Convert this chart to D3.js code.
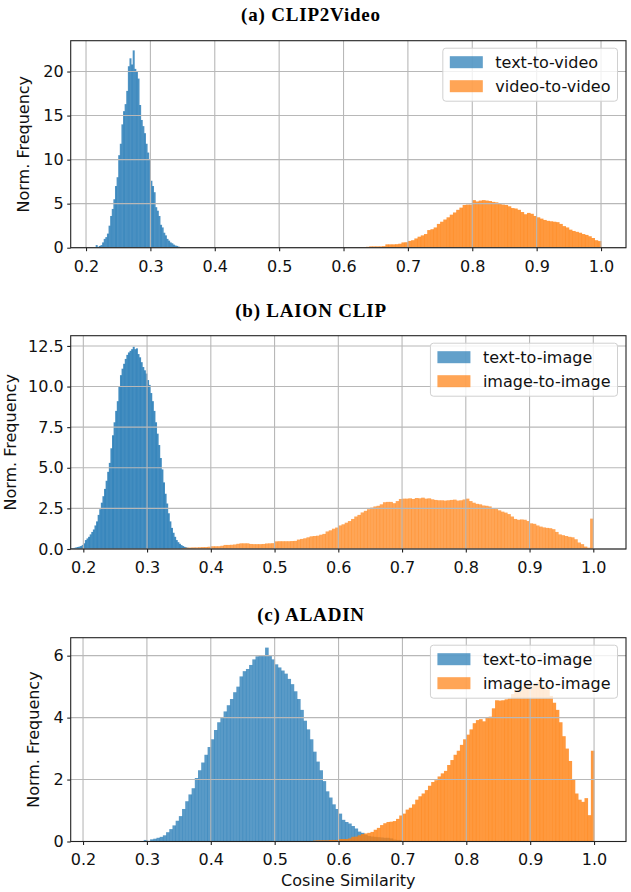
<!DOCTYPE html>
<html>
<head>
<meta charset="utf-8">
<script src="https://cdn.jsdelivr.net/npm/d3@7"></script>
<style>
  body { margin: 0; background: #fff; }
  svg { display: block; }
</style>
</head>
<body>
<svg id="chart" width="631" height="892"></svg>
<script>
// histogram heights, one value per bin
var xTicks = [0.2, 0.3, 0.4, 0.5, 0.6, 0.7, 0.8, 0.9, 1.0];

// (a) CLIP2Video
var aTextStart = 0.215, aTextWidth = 0.0025;
var aText = [0.3, 0.1, 0.2, 0.3, 0.6, 1.0, 1.2, 1.6, 2.5, 3.6, 4.4, 5.5, 7.0, 8.0, 10.5, 11.8,
  14.0, 15.5, 16.3, 17.8, 20.6, 21.5, 20.8, 22.4, 20.3, 20.0, 19.2, 16.2, 14.5, 13.8, 13.0, 11.8,
  10.8, 10.0, 7.6, 7.0, 6.3, 4.6, 4.2, 3.6, 2.6, 2.3, 1.7, 1.4, 1.0, 0.8, 0.6, 0.5,
  0.35, 0.25, 0.2, 0.12, 0.08, 0.05, 0.03, 0.02];
var aVideoStart = 0.6, aVideoWidth = 0.005;
var aVideo = [0.02, 0.02, 0.03, 0.03, 0.05, 0.06, 0.06, 0.1, 0.15, 0.15, 0.15, 0.15, 0.18, 0.38, 0.38, 0.38,
  0.4, 0.45, 0.6, 0.62, 0.77, 0.85, 1.05, 1.25, 1.4, 1.55, 2.0, 2.1, 2.3, 2.7, 2.95, 3.2,
  3.45, 3.75, 4.0, 4.3, 4.55, 4.85, 4.9, 4.9, 5.4, 5.25, 5.35, 5.4, 5.35, 5.3, 5.2, 5.15,
  5.0, 4.9, 4.85, 4.7, 4.5, 4.45, 4.3, 4.05, 3.8, 3.95, 3.85, 3.6, 3.45, 3.3, 3.15, 3.05,
  3.0, 2.95, 2.9, 2.7, 2.45, 2.3, 2.05, 1.9, 1.8, 1.7, 1.55, 1.45, 1.3, 1.1, 0.85, 0.75];

// (b) LAION CLIP
var bTextStart = 0.18, bTextWidth = 0.0025;
var bText = [0.04, 0.05, 0.07, 0.1, 0.12, 0.15, 0.18, 0.25, 0.35, 0.55, 0.65, 0.75, 0.9, 1.05, 1.2, 1.45,
  1.7, 2.1, 2.45, 2.85, 3.25, 3.7, 4.2, 4.75, 5.3, 6.2, 7.0, 7.8, 8.5, 9.1, 10.0, 10.7,
  11.1, 11.4, 11.7, 11.95, 12.1, 12.2, 12.3, 12.45, 12.3, 12.35, 12.0, 11.8, 11.5, 11.2, 11.0, 10.8,
  10.4, 10.1, 9.6, 9.1, 8.5, 7.8, 7.1, 6.4, 5.6, 4.9, 4.1, 3.4, 2.8, 2.2, 1.7, 1.3,
  1.0, 0.75, 0.55, 0.42, 0.32, 0.24, 0.18, 0.13, 0.1, 0.07, 0.05, 0.04, 0.03, 0.02];
var bImageStart = 0.355, bImageWidth = 0.005;
var bImage = [0.06, 0.08, 0.09, 0.1, 0.1, 0.11, 0.12, 0.12, 0.14, 0.17, 0.17, 0.17, 0.2, 0.25, 0.25, 0.26,
  0.28, 0.32, 0.35, 0.35, 0.35, 0.31, 0.3, 0.3, 0.3, 0.31, 0.34, 0.35, 0.36, 0.47, 0.48, 0.48,
  0.48, 0.48, 0.49, 0.5, 0.58, 0.62, 0.66, 0.72, 0.78, 0.8, 0.82, 0.88, 0.93, 1.08, 1.15, 1.25,
  1.32, 1.45, 1.52, 1.62, 1.72, 1.85, 2.0, 2.1, 2.25, 2.35, 2.45, 2.55, 2.62, 2.66, 2.75, 2.88,
  2.9, 2.9, 2.82, 2.95, 3.08, 3.1, 3.1, 3.12, 3.08, 3.14, 3.12, 3.16, 3.1, 3.12, 3.06, 3.02,
  3.0, 3.0, 2.98, 3.0, 3.02, 3.04, 2.98, 3.0, 3.05, 3.1, 2.95, 2.85, 2.78, 2.75, 2.68, 2.66,
  2.62, 2.52, 2.46, 2.38, 2.3, 2.24, 2.15, 2.0, 1.85, 1.8, 1.82, 1.8, 1.72, 1.58, 1.55, 1.45,
  1.38, 1.33, 1.3, 1.28, 1.22, 1.05, 0.9, 0.85, 0.8, 0.75, 0.72, 0.6, 0.4, 0.3, 0.15, 0.08, 1.87];

// (c) ALADIN
var cTextStart = 0.295, cTextWidth = 0.005;
var cText = [0.05, 0.02, 0.07, 0.09, 0.12, 0.15, 0.2, 0.3, 0.4, 0.52, 0.67, 0.82, 1.05, 1.3, 1.52, 1.72,
  2.05, 2.3, 2.55, 2.8, 3.05, 3.3, 3.6, 3.85, 4.02, 4.2, 4.4, 4.6, 4.82, 5.0, 5.33, 5.5,
  5.57, 5.7, 5.88, 5.98, 6.02, 6.02, 6.26, 6.0, 5.88, 5.72, 5.62, 5.52, 5.42, 5.25, 5.08, 4.85,
  4.6, 4.25, 3.9, 3.62, 3.3, 2.9, 2.58, 2.3, 1.95, 1.62, 1.42, 1.2, 1.05, 0.9, 0.7, 0.63,
  0.58, 0.5, 0.42, 0.32, 0.28, 0.22, 0.18, 0.16, 0.15, 0.14, 0.13, 0.12, 0.12, 0.1, 0.06, 0.05, 0.05];
var cImageStart = 0.56, cImageWidth = 0.005;
var cImage = [0.03, 0.04, 0.04, 0.04, 0.04, 0.05, 0.05, 0.05, 0.08, 0.08, 0.08, 0.1, 0.15, 0.16, 0.2, 0.24,
  0.26, 0.28, 0.31, 0.38, 0.44, 0.53, 0.59, 0.63, 0.64, 0.66, 0.73, 0.84, 0.9, 1.03, 1.09, 1.2,
  1.35, 1.46, 1.55, 1.66, 1.8, 1.92, 1.98, 2.1, 2.2, 2.28, 2.47, 2.63, 2.8, 2.93, 3.12, 3.3,
  3.45, 3.62, 3.82, 3.92, 3.95, 3.88, 3.99, 4.03, 4.3, 4.56, 4.55, 4.56, 4.59, 4.62, 4.76, 4.85,
  4.95, 5.0, 5.05, 5.1, 5.02, 5.1, 5.15, 5.05, 5.0, 4.9, 4.7, 4.48, 4.25, 3.85, 3.4, 3.0,
  2.6, 2.0, 1.55, 1.35, 1.28, 1.4, 0.85, 2.93];

var blue = "#1f77b4", orange = "#ff7f0e";

var panels = [
  { title: "(a) CLIP2Video", titleY: 21, top: 40.7, bottom: 247.7, xDomain: [0.1762, 1.0388],
    yDomain: [0, 23.5], yTicks: [0, 5, 10, 15, 20], yFmt: d3.format("d"), yLabelX: 29,
    series: [
      { name: "text-to-video", start: aTextStart, w: aTextWidth, values: aText, color: blue, op: 0.8 },
      { name: "video-to-video", start: aVideoStart, w: aVideoWidth, values: aVideo, color: orange, op: 0.8 }
    ] },
  { title: "(b) LAION CLIP", titleY: 316.5, top: 335.7, bottom: 549, xDomain: [0.1802, 1.0513],
    yDomain: [0, 13.13], yTicks: [0, 2.5, 5, 7.5, 10, 12.5], yFmt: d3.format(".1f"), yLabelX: 15.5,
    series: [
      { name: "text-to-image", start: bTextStart, w: bTextWidth, values: bText, color: blue, op: 0.84 },
      { name: "image-to-image", start: bImageStart, w: bImageWidth, values: bImage, color: orange, op: 0.7 }
    ] },
  { title: "(c) ALADIN", titleY: 621, top: 637.7, bottom: 841.5, xDomain: [0.1807, 1.050],
    yDomain: [0, 6.58], yTicks: [0, 2, 4, 6], yFmt: d3.format("d"), yLabelX: 39,
    series: [
      { name: "text-to-image", start: cTextStart, w: cTextWidth, values: cText, color: blue, op: 0.74 },
      { name: "image-to-image", start: cImageStart, w: cImageWidth, values: cImage, color: orange, op: 0.8 }
    ] }
];

var svg = d3.select("#chart");
var left = 70.7, right = 626;
var sans = "'DejaVu Sans', sans-serif";
var fontSize = "16px";

panels.forEach(function (p) {
  var x = d3.scaleLinear().domain(p.xDomain).range([left, right]);
  var y = d3.scaleLinear().domain(p.yDomain).range([p.bottom, p.top]);
  var g = svg.append("g");

  g.append("text")
    .attr("x", 311).attr("y", p.titleY)
    .attr("text-anchor", "middle")
    .style("font-family", "'Liberation Serif', serif")
    .style("font-weight", "bold")
    .style("font-size", "19px")
    .style("letter-spacing", "0.8px")
    .text(p.title);

  // bars
  p.series.forEach(function (s) {
    g.append("g").selectAll("rect")
      .data(s.values)
      .enter().append("rect")
      .attr("x", function (d, i) { return x(s.start + i * s.w); })
      .attr("width", function (d, i) { return x(s.start + (i + 1) * s.w) - x(s.start + i * s.w) + 0.4; })
      .attr("y", function (d) { return y(d); })
      .attr("height", function (d) { return p.bottom - y(d); })
      .attr("fill", s.color)
      .attr("fill-opacity", s.op);
  });

  // grid above bars, like matplotlib's default
  var grid = g.append("g").attr("stroke", "#b8b8b8").attr("stroke-width", 1.1);
  xTicks.forEach(function (t) {
    grid.append("line").attr("x1", x(t)).attr("x2", x(t)).attr("y1", p.top).attr("y2", p.bottom);
  });
  p.yTicks.forEach(function (t) {
    grid.append("line").attr("x1", left).attr("x2", right).attr("y1", y(t)).attr("y2", y(t));
  });

  var xAxis = g.append("g").attr("transform", "translate(0," + p.bottom + ")")
    .call(d3.axisBottom(x).tickValues(xTicks).tickFormat(d3.format(".1f")).tickSize(3.5).tickPadding(9));
  var yAxis = g.append("g").attr("transform", "translate(" + left + ",0)")
    .call(d3.axisLeft(y).tickValues(p.yTicks).tickFormat(p.yFmt).tickSize(3.5).tickPadding(3.5));
  [xAxis, yAxis].forEach(function (a) {
    a.select(".domain").remove();
    a.selectAll("line").attr("stroke", "#222").attr("stroke-width", 1.1);
    a.selectAll("text").style("font-family", sans).style("font-size", fontSize).attr("fill", "#111");
  });

  g.append("rect")
    .attr("x", left).attr("y", p.top)
    .attr("width", right - left).attr("height", p.bottom - p.top)
    .attr("fill", "none").attr("stroke", "#222").attr("stroke-width", 1.1);

  g.append("text")
    .attr("transform", "translate(" + p.yLabelX + "," + ((p.top + p.bottom) / 2) + ") rotate(-90)")
    .attr("text-anchor", "middle")
    .style("font-family", sans).style("font-size", fontSize).attr("fill", "#111")
    .text("Norm. Frequency");

  // legend
  var lg = g.append("g");
  var box = lg.append("rect")
    .attr("rx", 3).attr("ry", 3)
    .attr("fill", "#fff").attr("fill-opacity", 0.8)
    .attr("stroke", "#d0d0d0").attr("stroke-width", 1);
  var maxW = 0;
  p.series.forEach(function (s, i) {
    lg.append("rect")
      .attr("x", 7).attr("y", 14 + i * 24 - 6)
      .attr("width", 33).attr("height", 12)
      .attr("fill", s.color).attr("fill-opacity", 0.7);
    var t = lg.append("text")
      .attr("x", 52.5).attr("y", 14 + i * 24 + 5.8)
      .style("font-family", sans).style("font-size", fontSize).attr("fill", "#111")
      .text(s.name);
    maxW = Math.max(maxW, t.node().getComputedTextLength());
  });
  var bw = 52.5 + maxW + 7;
  box.attr("width", bw).attr("height", 53);
  lg.attr("transform", "translate(" + (right - 8.5 - bw) + "," + (p.top + 7.5) + ")");
});

svg.append("text")
  .attr("x", (left + right) / 2).attr("y", 885.5)
  .attr("text-anchor", "middle")
  .style("font-family", sans).style("font-size", fontSize).attr("fill", "#111")
  .text("Cosine Similarity");
</script>
</body>
</html>
